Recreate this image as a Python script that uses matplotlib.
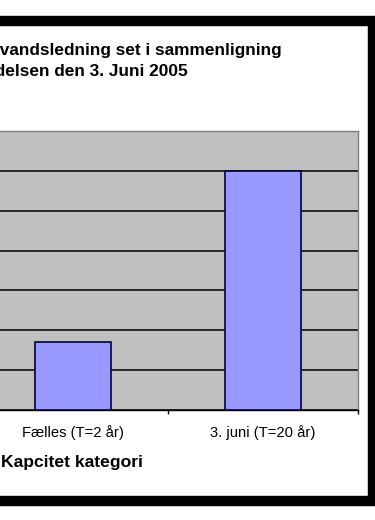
import matplotlib
matplotlib.use("Agg")
import matplotlib.pyplot as plt
from matplotlib.patches import Rectangle

# data (y axis itself is cropped away)
categories = ["Fælles (T=2 år)", "3. juni (T=20 år)"]
capacity = [17, 60]
y_ticks = [0, 10, 20, 30, 40, 50, 60, 70]

title_line1 = "Kapacitet af eksisterende vandsledning set i sammenligning"
title_line2 = "med hændelsen den 3. Juni 2005"
x_title = "Kapcitet kategori"

W, H = 375, 520
plt.rcParams['font.family'] = ['Liberation Sans', 'DejaVu Sans']

fig = plt.figure(figsize=(W / 100, H / 100), dpi=100)


def px(x, y):
    # pixel position (from top-left) -> figure fraction
    return x / W, 1 - y / H


# plot area: x -22..358, y 131..410 px
left, top, right, bottom = -22, 131, 358, 410
ax = fig.add_axes([left / W, 1 - bottom / H, (right - left) / W, (bottom - top) / H])
ax.set_facecolor('#C0C0C0')

xs = list(range(len(categories)))
ax.bar(xs, capacity, width=0.4, color='#9999FF', edgecolor='#000040', linewidth=1.2, zorder=3)

ax.set_xlim(-0.5, len(categories) - 0.5)
ax.set_ylim(y_ticks[0], y_ticks[-1])
ax.set_yticks(y_ticks)
ax.set_yticklabels([])
ax.tick_params(axis='y', length=0)
ax.yaxis.grid(True, color='black', linewidth=1.1, zorder=1)
ax.set_axisbelow(True)

# category boundaries get the tick marks, labels sit in the middle
ax.set_xticks([i - 0.5 for i in range(len(categories) + 1)])
ax.set_xticklabels([])
ax.set_xticks(xs, minor=True)
ax.set_xticklabels(categories, minor=True, fontsize=10.6)
ax.tick_params(axis='x', which='major', direction='out', length=3, width=1, color='black')
ax.tick_params(axis='x', which='minor', length=0, pad=11)

for s in ['top', 'right', 'left']:
    ax.spines[s].set_color('#808080')
    ax.spines[s].set_linewidth(1.0)
ax.spines['bottom'].set_color('black')
ax.spines['bottom'].set_linewidth(1.0)

# title, right-aligned where each line ends in the picture
fig.text(*px(282, 50), title_line1, ha='right', va='center', fontsize=12.4, fontweight='bold')
fig.text(*px(188, 72), title_line2, ha='right', va='center', fontsize=12.4, fontweight='bold')

fig.text(*px(1, 462), x_title, ha='left', va='center', fontsize=12.6, fontweight='bold')

# thick black chart border
x0, y0 = px(-20, 500.5)
x1, y1 = px(373, 21.5)
fig.patches.append(Rectangle((x0, y0), x1 - x0, y1 - y0, transform=fig.transFigure,
                             fill=False, edgecolor='black', linewidth=7.5, clip_on=False))

fig.savefig('out.png', dpi=100, facecolor='white')
